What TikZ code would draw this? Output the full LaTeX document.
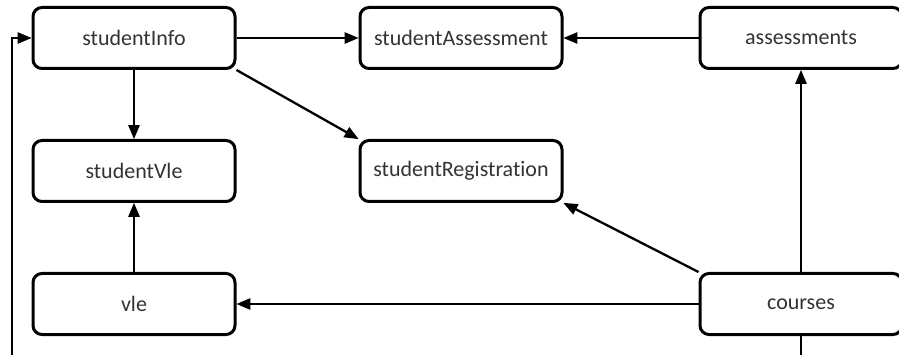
\documentclass[tikz,border=0pt]{standalone}
\usepackage{fontspec}
\setmainfont{Carlito}[Ligatures=NoCommon]
\usetikzlibrary{arrows,calc}

\begin{document}
\begin{tikzpicture}[x=1pt,y=-1pt,
    box/.style={draw,line width=3pt,rounded corners=9pt,minimum width=202pt,minimum height=61pt,
      inner sep=0pt,font=\fontsize{22}{26}\selectfont,text=black!80},
    link/.style={->,>=triangle 45,line width=2.3pt}]
            \clip (0,0) rectangle (899,355);
            \fill[white] (0,0) rectangle (899,355);

            \node[box] (studentInfo) at (134, 38) {studentInfo};
            \node[box] (studentAssessment) at (461, 38) {studentAssessment};
            \node[box] (assessments) at (801, 38) {assessments};
            \node[box] (studentVle) at (134, 171) {studentVle};
            \node[box] (studentRegistration) at (461, 171) {studentRegistration};
            \node[box] (vle) at (134, 304) {vle};
            \node[box] (courses) at (801, 304) {courses};

            \coordinate (loop) at (12, 380);

            \draw[link] (studentInfo) -- (studentAssessment);
            \draw[link] (assessments) -- (studentAssessment);
            \draw[link] (studentInfo) -- (studentVle);
            \draw[link] (studentInfo.south east) -- (studentRegistration.north west);
            \draw[link] (vle) -- (studentVle);
            \draw[link] (courses.north west) -- (studentRegistration.south east);
            \draw[link] (courses) -- (vle);
            \draw[link] (courses) -- (assessments);
            %back to studentInfo, round the bottom
            \draw[link] (courses.south) |- (loop) |- (studentInfo.west);
        \end{tikzpicture}
\end{document}
